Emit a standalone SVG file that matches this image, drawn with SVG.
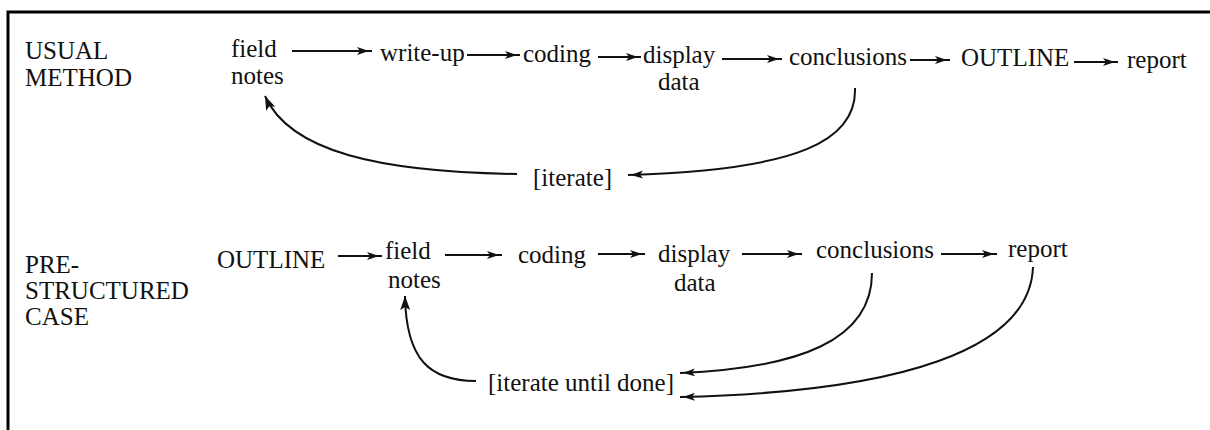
<svg xmlns="http://www.w3.org/2000/svg" width="1210" height="430" viewBox="0 0 1210 430">
  <style>
    text { font-family: "Liberation Serif", "Times New Roman", serif; font-size: 25px; fill: #111; }
    .ln { stroke: #111; stroke-width: 2; fill: none; }
    .frame { stroke: #000; stroke-width: 3; fill: none; }
  </style>
  <defs>
    <marker id="ah" markerUnits="userSpaceOnUse" markerWidth="20" markerHeight="12" viewBox="0 0 20 12" refX="17" refY="6" orient="auto">
      <path d="M2,2 L14,6 L2,10 L5,6 Z" fill="#111"/>
    </marker>
    <marker id="tip" markerUnits="userSpaceOnUse" markerWidth="16" markerHeight="12" viewBox="0 0 16 12" refX="14" refY="6" orient="auto">
      <path d="M0,1 L14,6 L0,11 L3,6 Z" fill="#111"/>
    </marker>
  </defs>

  <path class="frame" d="M8,430 V12 H1210"/>

  <!-- Row labels -->
  <g id="label-usual">
    <text x="25" y="59">USUAL</text>
    <text x="25" y="86">METHOD</text>
  </g>
  <g id="label-prestructured">
    <text x="25" y="273">PRE-</text>
    <text x="25" y="299">STRUCTURED</text>
    <text x="25" y="325">CASE</text>
  </g>

  <!-- Row 1 nodes -->
  <g id="u-fieldnotes"><text x="231" y="57">field</text><text x="231" y="84">notes</text></g>
  <g id="u-writeup"><text x="380" y="61">write-up</text></g>
  <g id="u-coding"><text x="523" y="62">coding</text></g>
  <g id="u-display"><text x="643" y="63">display</text><text x="658" y="90">data</text></g>
  <g id="u-conclusions"><text x="789" y="65">conclusions</text></g>
  <g id="u-outline"><text x="961" y="66">OUTLINE</text></g>
  <g id="u-report"><text x="1127" y="68">report</text></g>
  <g id="u-iterate"><text x="533" y="186">[iterate]</text></g>

  <!-- Row 2 nodes -->
  <g id="p-outline"><text x="217" y="268">OUTLINE</text></g>
  <g id="p-fieldnotes"><text x="385" y="259">field</text><text x="388" y="288">notes</text></g>
  <g id="p-coding"><text x="518" y="263">coding</text></g>
  <g id="p-display"><text x="658" y="262">display</text><text x="674" y="291">data</text></g>
  <g id="p-conclusions"><text x="816" y="258">conclusions</text></g>
  <g id="p-report"><text x="1008" y="257">report</text></g>
  <g id="p-iterate"><text x="488" y="391">[iterate until done]</text></g>

  <!-- Connectors -->
  <g id="connectors">
    <line class="ln" x1="292" y1="51" x2="372" y2="51" marker-end="url(#ah)"/>
    <line class="ln" x1="467" y1="55" x2="520" y2="55" marker-end="url(#ah)"/>
    <line class="ln" x1="598" y1="57" x2="641" y2="57" marker-end="url(#ah)"/>
    <line class="ln" x1="722" y1="59" x2="782" y2="59" marker-end="url(#ah)"/>
    <line class="ln" x1="910" y1="60" x2="950" y2="60" marker-end="url(#ah)"/>
    <line class="ln" x1="1074" y1="62" x2="1118" y2="62" marker-end="url(#ah)"/>
    <path class="ln" d="M855,88 C857,140 800,170 628,175" marker-end="url(#ah)"/>
    <path class="ln" d="M517,174 C380,172 290,152 265,96" marker-end="url(#tip)"/>

    <line class="ln" x1="338" y1="256" x2="382" y2="256" marker-end="url(#ah)"/>
    <line class="ln" x1="445" y1="255" x2="502" y2="255" marker-end="url(#ah)"/>
    <line class="ln" x1="598" y1="254" x2="645" y2="254" marker-end="url(#ah)"/>
    <line class="ln" x1="742" y1="254" x2="802" y2="254" marker-end="url(#ah)"/>
    <line class="ln" x1="941" y1="254" x2="997" y2="254" marker-end="url(#ah)"/>
    <path class="ln" d="M872,273 C872,340 800,368 680,373" marker-end="url(#ah)"/>
    <path class="ln" d="M1033,267 C1030,350 900,392 680,397" marker-end="url(#ah)"/>
    <path class="ln" d="M476,381 C430,381 406,360 405,296" marker-end="url(#tip)"/>
  </g>
</svg>
